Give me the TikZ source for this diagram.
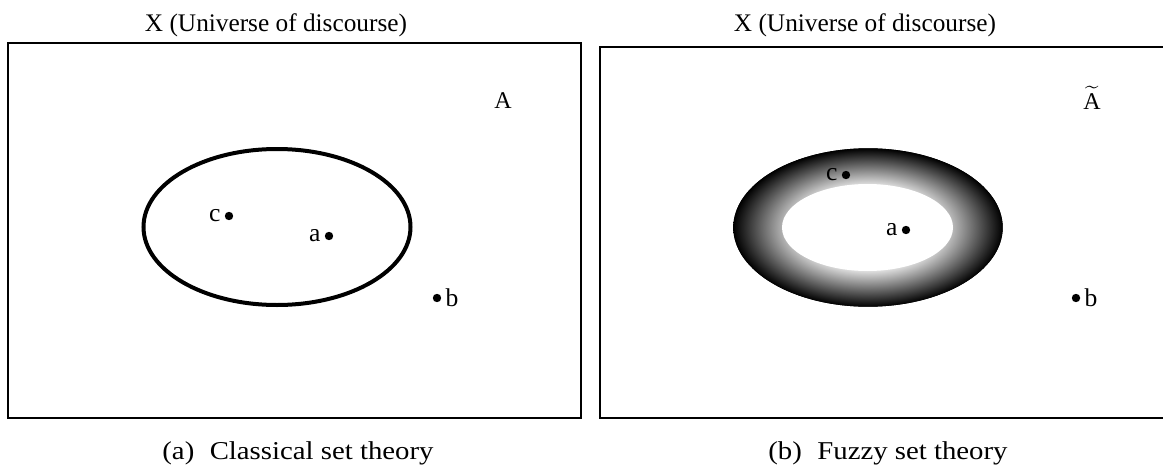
\documentclass[tikz,border=0pt]{standalone}
\usepackage{amsmath}
\usepackage{fontspec}
\setmainfont{Liberation Serif}
\newfontfamily\capfont[FakeStretch=1.12]{Liberation Serif}
\pgfdeclareradialshading{fuzzring}{\pgfpoint{0bp}{0bp}}{color(0bp)=(white); color(12bp)=(white); color(25bp)=(black); color(50bp)=(black)}
\tikzset{
  box/.style={line width=1.1pt},
  pt/.style={circle,fill=black,inner sep=0pt,minimum size=4.2pt},
  lab/.style={font=\fontsize{12.8}{15}\selectfont,inner sep=1.8pt},
  ttl/.style={anchor=base,font=\fontsize{12.65}{15}\selectfont},
  setname/.style={anchor=base,font=\fontsize{12}{14}\selectfont},
  captxt/.style={anchor=base,font=\capfont\fontsize{12.85}{15}\selectfont},
}
\begin{document}
\begin{tikzpicture}[x=0.5pt,y=-0.5pt]
  \useasboundingbox (0,0) rectangle (1163,466);
  % classical set
  \node[ttl] (ttlA) at (276,32) {X (Universe of discourse)};
  \draw[box] (8,43) rectangle (581,418);
  \node[setname] (setA) at (503,108) {A};
  \draw[line width=2pt] (277,227) ellipse [x radius=133.5,y radius=78];
  \node[pt,label={[lab]left:c}] (cA) at (229,216) {};
  \node[pt,label={[lab]left:a}] (aA) at (329,236) {};
  \node[pt,label={[lab]right:b}] (bA) at (437,298) {};
  \node[captxt] (capA) at (298,459) {(a)\hspace{.6em}Classical set theory};
  % fuzzy set
  \node[ttl] (ttlB) at (865,32) {X (Universe of discourse)};
  \draw[box] (1170,47) -- (600,47) -- (600,418) -- (1170,418);
  \node[setname] (setB) at (1092,109) {$\widetilde{\text{A}}$};
  \fill[shading=fuzzring] (868,227.5) ellipse [x radius=134.7,y radius=79.2];
  \fill[white] (867.5,227.5) ellipse [x radius=85.5,y radius=43.5];
  \node[pt,label={[lab]left:c}] (cB) at (846,175) {};
  \node[pt,label={[lab]left:a}] (aB) at (906,230) {};
  \node[pt,label={[lab]right:b}] (bB) at (1076,298) {};
  \node[captxt] (capB) at (888,459) {(b)\hspace{.6em}Fuzzy set theory};
\end{tikzpicture}
\end{document}
